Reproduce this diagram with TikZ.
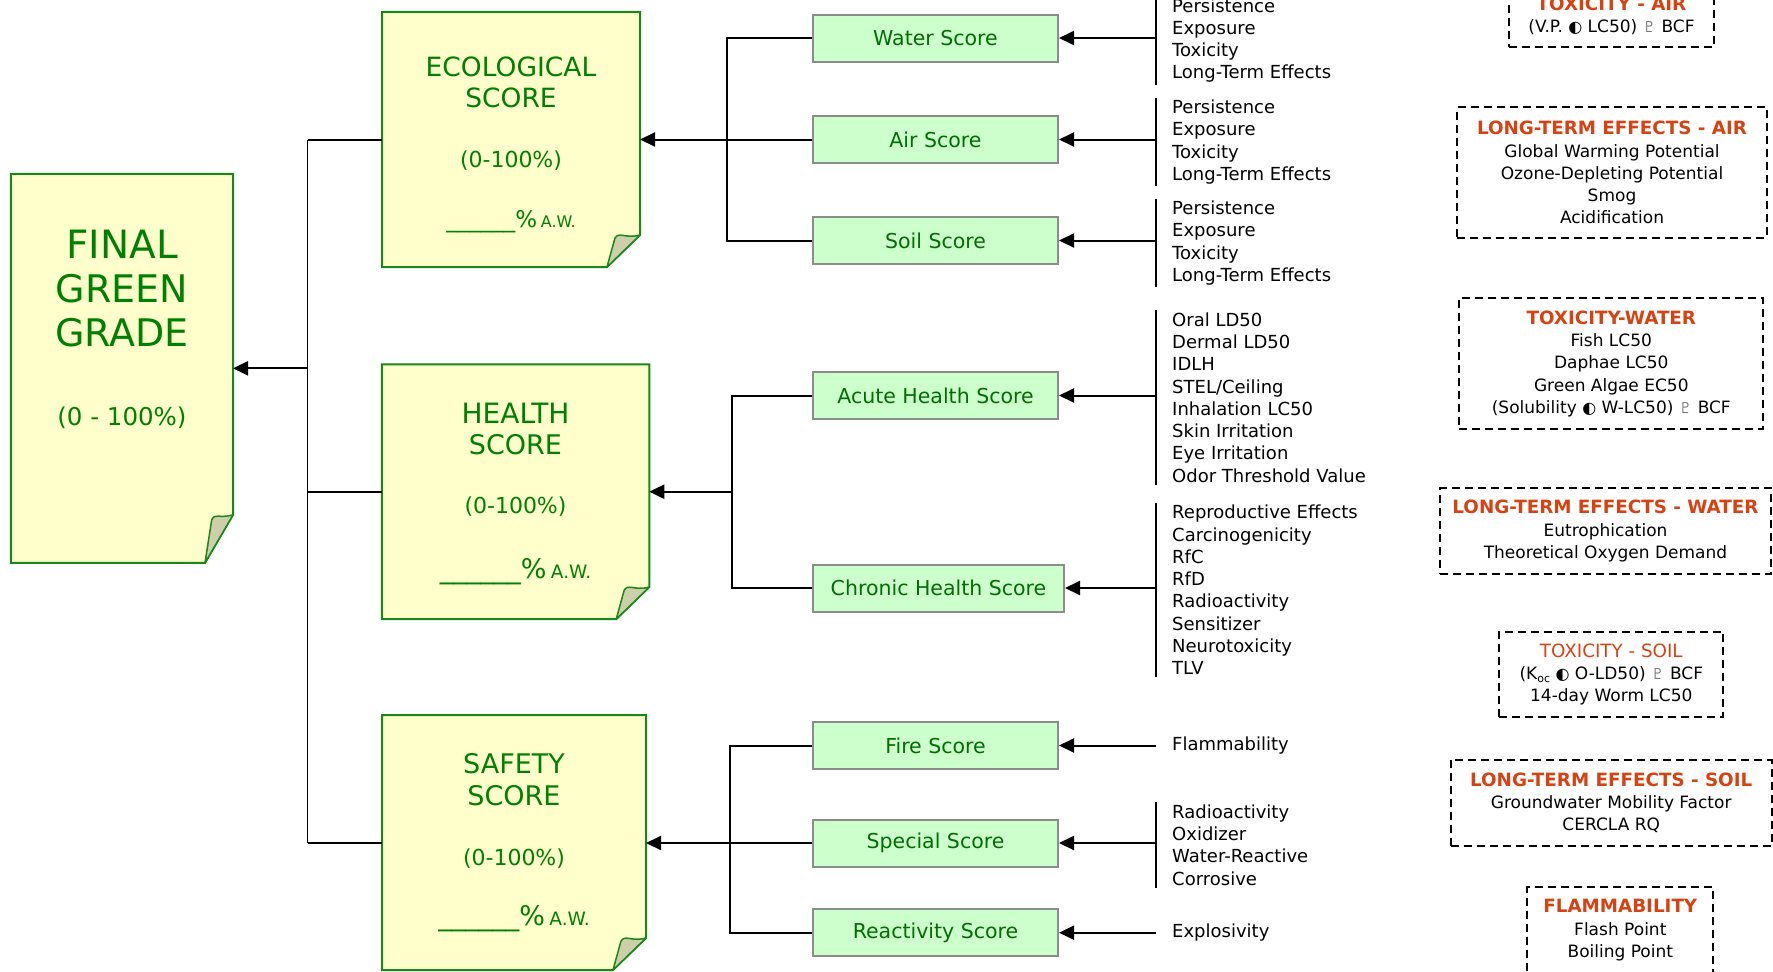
\documentclass[tikz,border=0pt]{standalone}
\usepackage{fontspec}
\setmainfont{DejaVu Sans}
\usetikzlibrary{arrows.meta,calc}

\definecolor{noteyellow}{RGB}{255,255,204}
\definecolor{noteedge}{RGB}{24,136,24}
\definecolor{notetext}{RGB}{0,128,0}
\definecolor{flapfill}{RGB}{205,207,170}
\definecolor{scorefill}{RGB}{204,255,204}
\definecolor{scoreedge}{RGB}{140,140,140}
\definecolor{scoretext}{RGB}{0,110,0}
\definecolor{critorange}{RGB}{214,66,18}
\definecolor{glyphgray}{RGB}{120,120,120}

\newcommand\fsz[2]{\fontsize{#1bp}{#2bp}\selectfont}
\newcommand\crit[1]{{\fsz{18.3}{22.2}\bfseries\color{critorange}#1}}
\newcommand\critplain[1]{{\fsz{18.3}{22.2}\color{critorange}#1}}
\newcommand\moon{{\fsz{16}{22.2}◐}}
\newcommand\hand{{\color{glyphgray}\fsz{15}{22.2}♇}}

% sticky-note sheet with a curled bottom-right corner
\newcommand\notesheet[3]{%
  \draw[noteline] (#1.north west) -- (#1.north east)
    -- ($(#1.south east)+(0,-#3)$) -- ($(#1.south east)+(-#2,0)$)
    -- (#1.south west) -- cycle;
  \draw[flapline] ($(#1.south east)+(-#2,0)$)
    -- ($(#1.south east)+(-0.76*#2,-0.9*#3)$)
    .. controls +(4,-7) and +(-15,4) .. ($(#1.south east)+(0,-#3)$) -- cycle;
}

\tikzset{
  frame/.style={draw=none, inner sep=0pt, outer sep=0pt},
  noteline/.style={draw=noteedge, fill=noteyellow, line width=2bp, line join=miter},
  flapline/.style={draw=noteedge, fill=flapfill, line width=1.5bp, line join=round},
  notelabel/.style={text=notetext, inner sep=0pt},
  scorebox/.style={draw=scoreedge, fill=scorefill, line width=2bp, minimum width=245bp,
    minimum height=47bp, text=scoretext, font={\fsz{20.5}{24}}, inner sep=0pt},
  listtext/.style={anchor=west, align=left, inner xsep=16bp, inner ysep=2bp,
    font={\fsz{18}{22.3}}},
  critbox/.style={draw, dash pattern=on 8bp off 5bp, line width=2bp, align=center,
    font={\fsz{17}{22.2}}, inner sep=0pt},
  bar/.style={line width=2bp},
  stub/.style={line width=2bp},
  trunk/.style={line width=1.4bp},
  arr/.style={line width=2bp, -{Triangle[length=15bp,width=14bp]}},
}

\begin{document}
\begin{tikzpicture}[x=1bp, y=-1bp]
\useasboundingbox (0,0) rectangle (1773,971);
\clip (0,0) rectangle (1773,971);

% --- frames of the four note sheets
\node[frame, minimum width=222bp, minimum height=389bp] (final) at (122,368.35) {};
\node[frame, minimum width=258bp, minimum height=255bp] (eco) at (511,139.5) {};
\node[frame, minimum width=267.5bp, minimum height=254.7bp] (health) at (515.5,491.7) {};
\node[frame, minimum width=264bp, minimum height=255bp] (safety) at (514,842.5) {};

\notesheet{final}{28}{48}
\notesheet{eco}{33}{32}
\notesheet{health}{33}{32}
\notesheet{safety}{33}{32}

% --- texts on the sheets
\node[notelabel, font={\fsz{39}{42}}] (fin-a) at (122,244) {FINAL};
\node[notelabel, font={\fsz{38}{42}}] (fin-b) at (122,289) {GREEN};
\node[notelabel, font={\fsz{38}{42}}] (fin-c) at (122,333) {GRADE};
\node[notelabel, font={\fsz{24.5}{28}}] (fin-d) at (122,417.5) {(0 - 100\%)};

\node[notelabel, font={\fsz{26.5}{30}}] (eco-a) at (511,66.7) {ECOLOGICAL};
\node[notelabel, font={\fsz{26.5}{30}}] (eco-b) at (511,98.2) {SCORE};
\node[notelabel, font={\fsz{22}{26}}] (eco-c) at (511,161) {(0-100\%)};
\node[notelabel, font={\fsz{23}{26}}] (eco-d) at (511,222)
  {\_\_\_\_\_\_\%\,{\fsz{16}{20}A.W.}};

\node[notelabel, font={\fsz{28}{30}}] (hea-a) at (515.5,413.3) {HEALTH};
\node[notelabel, font={\fsz{27}{30}}] (hea-b) at (515.5,444.3) {SCORE};
\node[notelabel, font={\fsz{22}{26}}] (hea-c) at (515.5,506.7) {(0-100\%)};
\node[notelabel, font={\fsz{27}{30}}] (hea-d) at (515.5,571.7)
  {\_\_\_\_\_\_\%\,{\fsz{18.5}{22}A.W.}};

\node[notelabel, font={\fsz{27}{30}}] (saf-a) at (514,763.7) {SAFETY};
\node[notelabel, font={\fsz{27}{30}}] (saf-b) at (514,795.8) {SCORE};
\node[notelabel, font={\fsz{22}{26}}] (saf-c) at (514,858.3) {(0-100\%)};
\node[notelabel, font={\fsz{27}{30}}] (saf-d) at (514,919)
  {\_\_\_\_\_\_\%\,{\fsz{18.5}{22}A.W.}};

% --- sub-scores
\node[scorebox] (water) at (935.5,38) {Water Score};
\node[scorebox] (air) at (935.5,139.5) {Air Score};
\node[scorebox] (soil) at (935.5,240.5) {Soil Score};
\node[scorebox] (acute) at (935.5,395.5) {Acute Health Score};
\node[scorebox, minimum width=251bp] (chronic) at (938.5,588) {Chronic Health Score};
\node[scorebox] (fire) at (935.5,745.5) {Fire Score};
\node[scorebox] (special) at (935.5,843) {Special Score};
\node[scorebox] (reactivity) at (935.5,932.7) {Reactivity Score};

% --- main trunk into the final grade
\coordinate (tj) at (307.5,368.35);
\draw[trunk] (eco.west -| tj) -- (safety.west -| tj);
\draw[stub] (eco.west) -- (eco.west -| tj);
\draw[stub] (health.west) -- (health.west -| tj);
\draw[stub] (safety.west) -- (safety.west -| tj);
\draw[arr] (tj) -- (final.east);

% --- ecological branch
\coordinate (ej) at (727,139.5);
\draw[stub] (water.west) -| (soil.west -| ej) -- (soil.west);
\draw[arr] (air.west) -- (eco.east);

% --- health branch
\coordinate (hj) at (731.5,491.7);
\draw[stub] (acute.west) -| (chronic.west -| hj) -- (chronic.west);
\draw[arr] (hj) -- (health.east);

% --- safety branch
\coordinate (sj) at (729.5,843);
\draw[stub] (fire.west) -| (reactivity.west -| sj) -- (reactivity.west);
\draw[arr] (special.west) -- (special.west -| safety.east);

% --- input lists (set a little low so the text sits level with its arrow)
\node[listtext] (wl) at (1156,40.5) {Persistence\\Exposure\\Toxicity\\Long-Term Effects};
\node[listtext] (al) at (1156,142) {Persistence\\Exposure\\Toxicity\\Long-Term Effects};
\node[listtext] (sl) at (1156,243) {Persistence\\Exposure\\Toxicity\\Long-Term Effects};
\node[listtext] (acl) at (1156,397.5) {Oral LD50\\Dermal LD50\\IDLH\\STEL/Ceiling\\Inhalation LC50\\Skin Irritation\\Eye Irritation\\Odor Threshold Value};
\node[listtext] (chl) at (1156,590) {Reproductive Effects\\Carcinogenicity\\RfC\\RfD\\Radioactivity\\Sensitizer\\Neurotoxicity\\TLV};
\node[listtext] (fl) at (1156,745.5) {Flammability};
\node[listtext] (spl) at (1156,845) {Radioactivity\\Oxidizer\\Water-Reactive\\Corrosive};
\node[listtext] (xl) at (1156,932.7) {Explosivity};

\foreach \l in {wl,al,sl,acl,chl,spl}
  \draw[bar] (\l.north west) -- (\l.south west);

\draw[arr] (water.east -| wl.west) -- (water.east);
\draw[arr] (air.east -| al.west) -- (air.east);
\draw[arr] (soil.east -| sl.west) -- (soil.east);
\draw[arr] (acute.east -| acl.west) -- (acute.east);
\draw[arr] (chronic.east -| chl.west) -- (chronic.east);
\draw[arr] (fl.west) -- (fire.east);
\draw[arr] (special.east -| spl.west) -- (special.east);
\draw[arr] (xl.west) -- (reactivity.east);

% --- criteria definitions
\node[critbox, minimum width=205bp, minimum height=62.7bp] (c-tair) at (1611.5,15.5)
  {\crit{TOXICITY - AIR}\\(V.P. \moon{} LC50) \hand{} BCF};
\node[critbox, minimum width=309.4bp, minimum height=130.7bp] (c-lair) at (1612,172.65)
  {\crit{LONG-TERM EFFECTS - AIR}\\Global Warming Potential\\Ozone-Depleting Potential\\Smog\\Acidification};
\node[critbox, minimum width=304bp, minimum height=131bp] (c-twat) at (1611.3,363.8)
  {\crit{TOXICITY-WATER}\\Fish LC50\\Daphae LC50\\Green Algae EC50\\(Solubility \moon{} W-LC50) \hand{} BCF};
\node[critbox, minimum width=331bp, minimum height=85.7bp] (c-lwat) at (1605.5,531.15)
  {\crit{LONG-TERM EFFECTS - WATER}\\Eutrophication\\Theoretical Oxygen Demand};
\node[critbox, minimum width=224bp, minimum height=85.6bp] (c-tsoil) at (1611.3,674.5)
  {\critplain{TOXICITY - SOIL}\\(K\raisebox{-3bp}{\fsz{11}{12}oc} \moon{} O-LD50) \hand{} BCF\\14-day Worm LC50};
\node[critbox, minimum width=321bp, minimum height=85.7bp] (c-lsoil) at (1611.2,802.85)
  {\crit{LONG-TERM EFFECTS - SOIL}\\Groundwater Mobility Factor\\CERCLA RQ};
\node[critbox, minimum width=186bp, minimum height=85.7bp] (c-flam) at (1620.3,930.15)
  {\crit{FLAMMABILITY}\\Flash Point\\Boiling Point};
\end{tikzpicture}
\end{document}
